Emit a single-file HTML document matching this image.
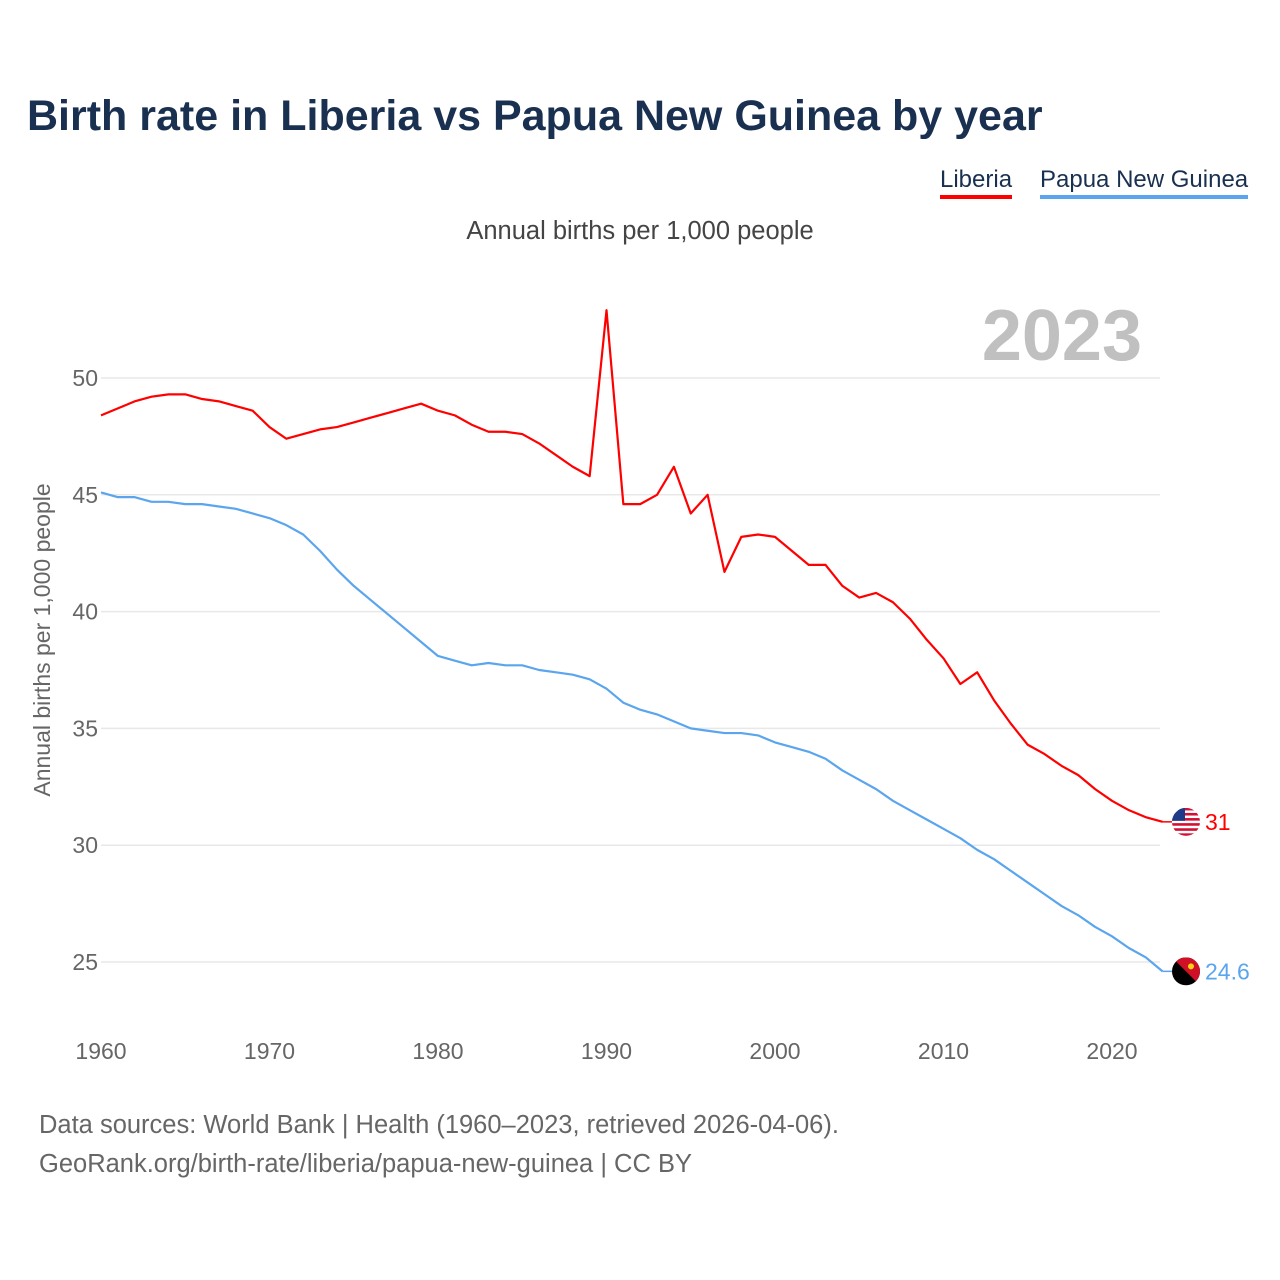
<!DOCTYPE html>
<html><head><meta charset="utf-8">
<style>
html,body{margin:0;padding:0;background:#fff;}
body{width:1280px;height:1280px;position:relative;overflow:hidden;font-family:"Liberation Sans",sans-serif;}
.t{position:absolute;white-space:nowrap;}
</style></head><body>
<div class="t" style="left:27px;top:92px;font-size:43px;font-weight:bold;color:#1a3050;">Birth rate in Liberia vs Papua New Guinea by year</div>
<div class="t" style="left:940px;top:166px;font-size:24px;color:#1a3050;border-bottom:4px solid #ff0000;padding-bottom:1px;">Liberia</div>
<div class="t" style="left:1040px;top:166px;font-size:24px;color:#1a3050;border-bottom:4px solid #5aa5ee;padding-bottom:1px;">Papua New Guinea</div>
<div class="t" style="left:0;width:1280px;text-align:center;top:217px;font-size:25.5px;color:#444;">Annual births per 1,000 people</div>
<div class="t" style="left:39px;top:1106px;font-size:25.5px;color:#666;line-height:39px;">Data sources: World Bank | Health (1960–2023, retrieved 2026-04-06).<br>GeoRank.org/birth-rate/liberia/papua-new-guinea | CC BY</div>
<svg id="chart" width="1280" height="1280" style="position:absolute;left:0;top:0;"></svg>
<script>
const years=[];for(let y=1960;y<=2023;y++)years.push(y);
const liberia=[48.4,48.7,49.0,49.2,49.3,49.3,49.1,49.0,48.8,48.6,47.9,47.4,47.6,47.8,47.9,48.1,48.3,48.5,48.7,48.9,48.6,48.4,48.0,47.7,47.7,47.6,47.2,46.7,46.2,45.8,52.9,44.6,44.6,45.0,46.2,44.2,45.0,41.7,43.2,43.3,43.2,42.6,42.0,42.0,41.1,40.6,40.8,40.4,39.7,38.8,38.0,36.9,37.4,36.2,35.2,34.3,33.9,33.4,33.0,32.4,31.9,31.5,31.2,31.0];
const png=[45.1,44.9,44.9,44.7,44.7,44.6,44.6,44.5,44.4,44.2,44.0,43.7,43.3,42.6,41.8,41.1,40.5,39.9,39.3,38.7,38.1,37.9,37.7,37.8,37.7,37.7,37.5,37.4,37.3,37.1,36.7,36.1,35.8,35.6,35.3,35.0,34.9,34.8,34.8,34.7,34.4,34.2,34.0,33.7,33.2,32.8,32.4,31.9,31.5,31.1,30.7,30.3,29.8,29.4,28.9,28.4,27.9,27.4,27.0,26.5,26.1,25.6,25.2,24.6];
const yTicks=[25,30,35,40,45,50];
const xTicks=[1960,1970,1980,1990,2000,2010,2020];
const X=v=>101+(v-1960)*(1011/60);
const Y=v=>962-(v-25)*(584/25);
const svg=document.getElementById('chart');
const NS='http://www.w3.org/2000/svg';
function mk(t,a,parent){const e=document.createElementNS(NS,t);for(const k in a)e.setAttribute(k,a[k]);(parent||svg).appendChild(e);return e;}
yTicks.forEach(v=>{
  const l=mk('line',{x1:101,x2:1160,y1:Y(v),y2:Y(v),stroke:'#e8e8e8','stroke-width':1.5});
  
  
  const t=mk('text',{x:98,y:Y(v)+8,'text-anchor':'end','font-size':23,fill:'#666','font-family':'Liberation Sans, sans-serif'});
  t.textContent=v;
  
  
});
xTicks.forEach(v=>{
  const t=mk('text',{x:X(v),y:1059,'text-anchor':'middle','font-size':23,fill:'#666','font-family':'Liberation Sans, sans-serif'});
  t.textContent=v;
  
  
});
const yt=mk('text',{x:0,y:0,transform:'translate(50,640) rotate(-90)','text-anchor':'middle','font-size':23,fill:'#666','font-family':'Liberation Sans, sans-serif'});
yt.textContent='Annual births per 1,000 people';


const yr=mk('text',{x:1142,y:360,'text-anchor':'end','font-size':72,'font-weight':'bold',fill:'#c0c0c0','font-family':'Liberation Sans, sans-serif'});
yr.textContent='2023';


function line(data,color,name){
  const p=mk('polyline',{points:data.map((v,i)=>X(years[i])+','+Y(v)).join(' '),fill:'none',stroke:color,'stroke-width':2.2,'stroke-linejoin':'round'});
  
  
}
line(png,'#5aa5ee','series-png');
line(liberia,'#ff0000','series-liberia');
const defs=mk('defs',{});
function endLabel(data,color,name,drawFlag){
  const v=data[data.length-1];const y=Y(v);
  mk('line',{x1:X(2023),x2:1172,y1:y,y2:y,stroke:color,'stroke-width':1.5});
  const cp=mk('clipPath',{id:'clip-'+name},defs);
  mk('circle',{cx:1186,cy:y,r:14},cp);
  const g=mk('g',{'clip-path':'url(#clip-'+name+')'});
  
  
  drawFlag(g,1172,y-14);
  const t=mk('text',{x:1205,y:y+8,'font-size':23,fill:color,'font-family':'Liberation Sans, sans-serif'});
  t.textContent=String(v);
  
  
}
endLabel(liberia,'#ff0000','liberia',(g,x,y)=>{
  mk('rect',{x:x,y:y,width:28,height:28,fill:'#fff'},g);
  for(let i=0;i<6;i++)mk('rect',{x:x,y:y+i*5.1,width:28,height:2.6,fill:'#d21034'},g);
  mk('rect',{x:x,y:y,width:13,height:13,fill:'#1f3b87'},g);
});
endLabel(png,'#5aa5ee','png',(g,x,y)=>{
  mk('rect',{x:x,y:y,width:28,height:28,fill:'#000'},g);
  mk('polygon',{points:`${x},${y} ${x+28},${y} ${x+28},${y+28}`,fill:'#ce1126'},g);
  mk('circle',{cx:x+19,cy:y+9,r:3,fill:'#fcd116'},g);
});
</script>
</body></html>
